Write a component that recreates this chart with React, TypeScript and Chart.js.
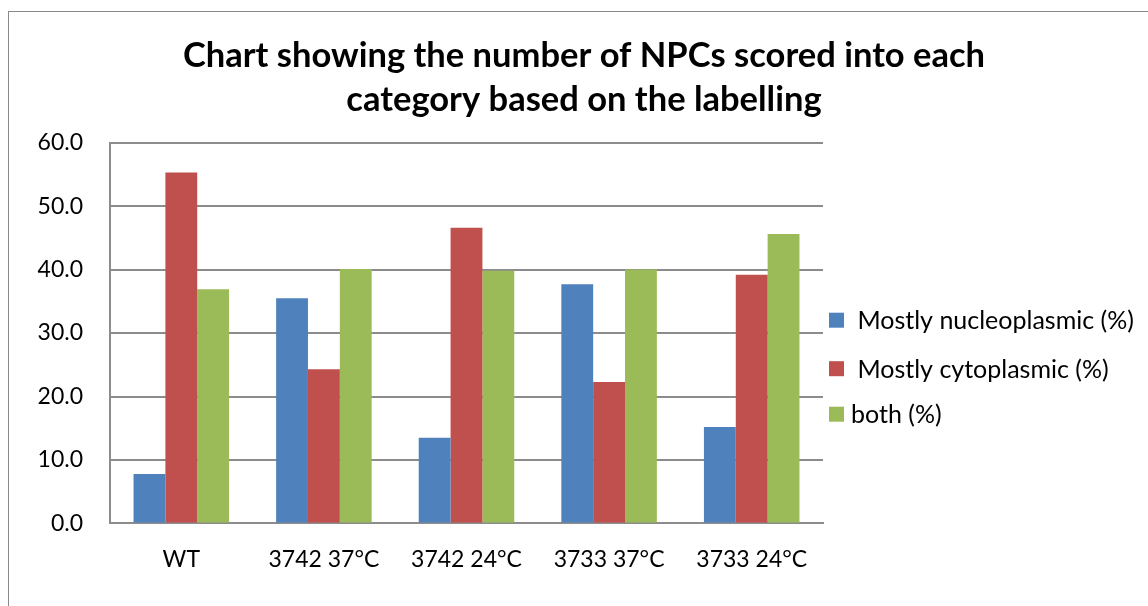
import React, { useEffect, useRef } from "react";
import { Chart, registerables } from "chart.js";

Chart.register(...registerables);

const titleLines = ["Chart showing the number of NPCs scored into each", "category based on the labelling"];
const categories = ["WT", "3742 37°C", "3742 24°C", "3733 37°C", "3733 24°C"];
const seriesNames = [" Mostly nucleoplasmic (%)", " Mostly cytoplasmic (%)", "both (%)"];
const nucleoplasmic = [7.8, 35.5, 13.5, 37.7, 15.2];
const cytoplasmic = [55.3, 24.3, 46.6, 22.3, 39.2];
const both = [36.9, 40.1, 39.8, 40.0, 45.6];
const seriesColors = ["#4F81BD", "#C0504D", "#9BBB59"];
const yMin = 0;
const yMax = 60;
const yStep = 10;

const FONT = "Lato, 'Open Sans', sans-serif";

const legendPlugin = {
  id: "sideLegend",
  afterDraw(chart: any) {
    const { ctx, chartArea } = chart;
    const x0 = chartArea.right + 6;
    const rowOffsets = [177.5, 226, 271.5];
    ctx.save();
    ctx.font = `25px ${FONT}`;
    ctx.fillStyle = "#000";
    ctx.textBaseline = "middle";
    ctx.textAlign = "left";
    chart.data.datasets.forEach((ds: any, i: number) => {
      const yc = chartArea.top + rowOffsets[i];
      ctx.fillStyle = ds.backgroundColor;
      ctx.fillRect(x0, yc - 7.5, 15, 15);
      ctx.fillStyle = "#000";
      ctx.fillText(ds.label, x0 + 22, yc + 1);
    });
    ctx.restore();
  },
};

export default function App() {
  const canvasRef = useRef<HTMLCanvasElement | null>(null);

  useEffect(() => {
    document.body.style.margin = "0";
    const canvas = canvasRef.current;
    if (!canvas) return;
    const values = [nucleoplasmic, cytoplasmic, both];
    const chart = new Chart(canvas, {
      type: "bar",
      data: {
        labels: categories,
        datasets: values.map((v, i) => ({
          label: seriesNames[i],
          data: v,
          backgroundColor: seriesColors[i],
          borderWidth: 0,
          barPercentage: 1,
          categoryPercentage: 0.67,
        })),
      },
      plugins: [legendPlugin],
      options: {
        responsive: false,
        animation: false,
        devicePixelRatio: 1,
        layout: { padding: { left: 0, right: 0, bottom: 11, top: 0 } },
        plugins: {
          title: {
            display: true,
            text: titleLines,
            color: "#000",
            font: { family: FONT, size: 34.5, weight: "bold", lineHeight: 1.3 },
            padding: { top: 33, bottom: 20 },
          },
          legend: { display: false },
          tooltip: { enabled: false },
        },
        scales: {
          x: {
            grid: { display: false, drawTicks: false },
            border: { display: true, color: "#8c8c8c", width: 2 },
            ticks: { color: "#000", padding: 22, font: { family: FONT, size: 23 } },
          },
          y: {
            min: yMin,
            max: yMax,
            grid: { color: "#8c8c8c", lineWidth: 2, drawTicks: false },
            border: { display: true, color: "#8c8c8c", width: 2 },
            ticks: {
              stepSize: yStep,
              color: "#000",
              padding: 27,
              font: { family: FONT, size: 23 },
              callback: (v: any) => Number(v).toFixed(1),
            },
            afterFit: (s: any) => {
              s.width = 90;
            },
          },
          yLegendSpace: {
            position: "right",
            min: yMin,
            max: yMax,
            grid: { display: false, drawTicks: false },
            border: { display: false },
            ticks: { display: false },
            afterFit: (s: any) => {
              s.width = 325;
            },
          },
        },
      },
    });
    return () => chart.destroy();
  }, []);

  return (
    <div style={{ position: "relative", width: 1148, height: 606, overflow: "hidden", background: "#fff" }}>
      <div
        style={{
          position: "absolute",
          left: 8,
          top: 11,
          width: 1160,
          height: 620,
          border: "1px solid #8a8a8a",
          boxSizing: "border-box",
        }}
      />
      <canvas
        ref={canvasRef}
        width={1128}
        height={606}
        style={{ position: "absolute", left: 20, top: 0, width: 1128, height: 606 }}
      />
    </div>
  );
}
